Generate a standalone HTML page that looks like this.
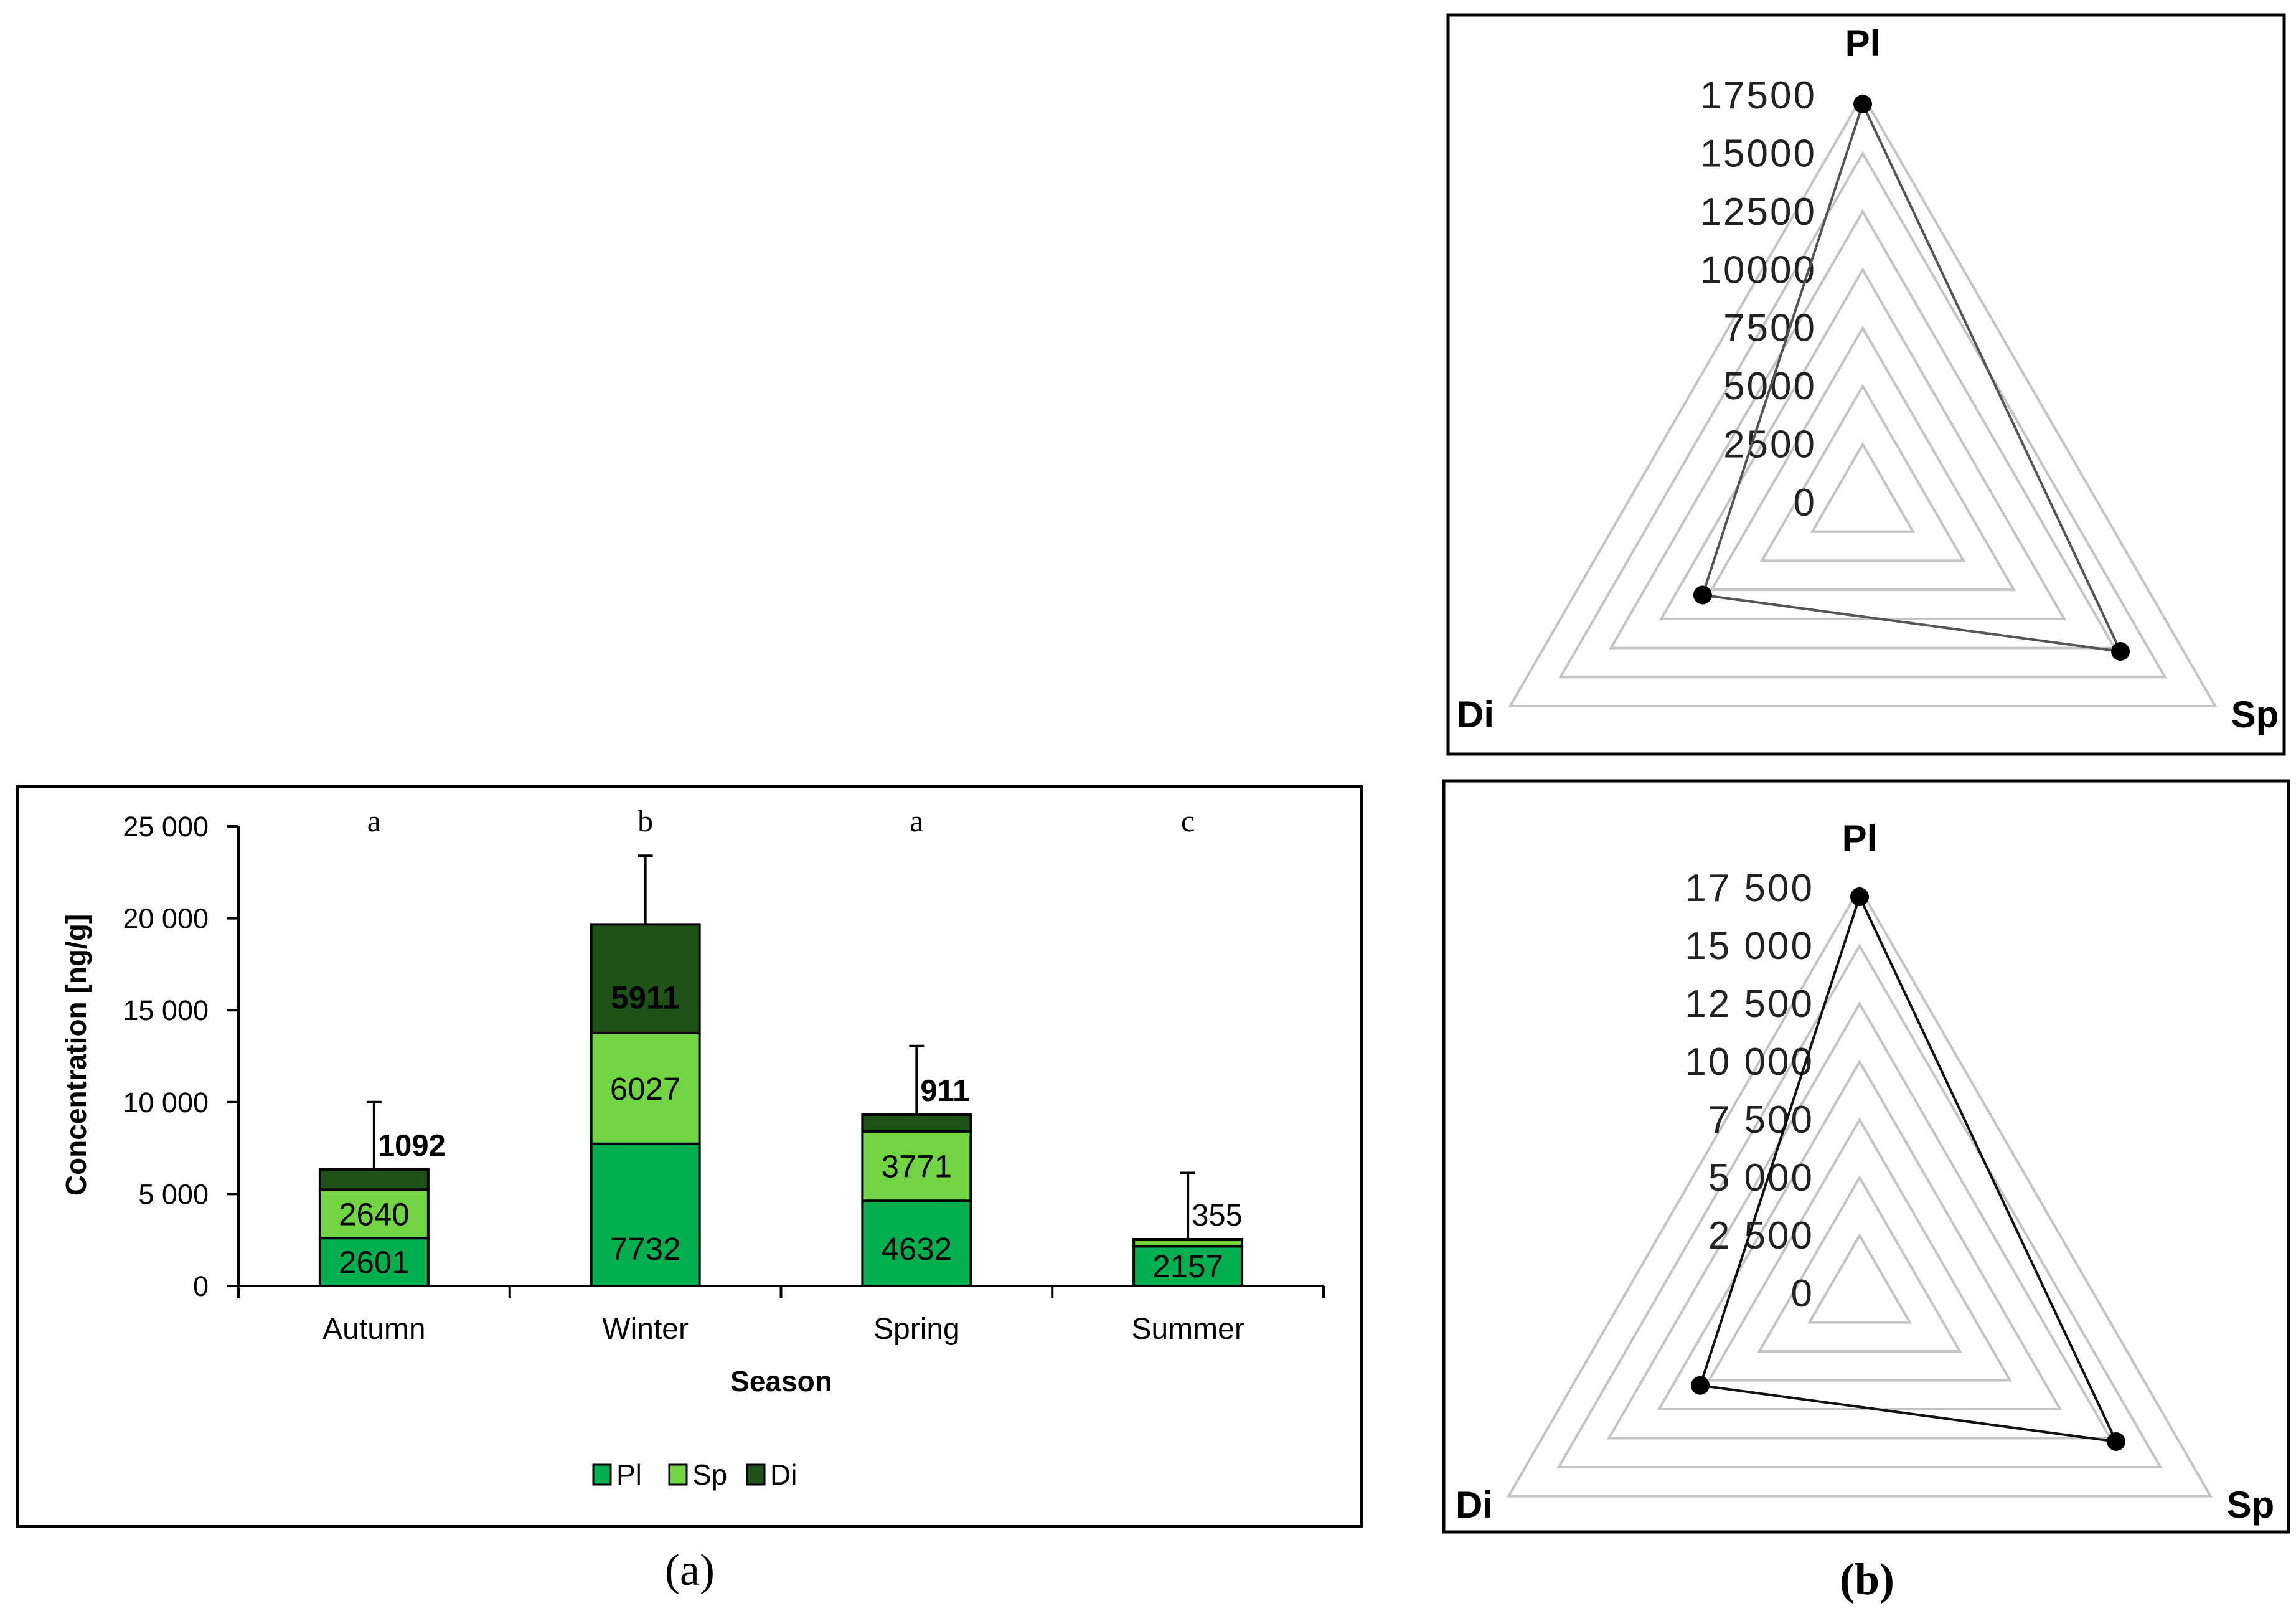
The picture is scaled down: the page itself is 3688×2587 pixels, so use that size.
<!DOCTYPE html>
<html><head><meta charset="utf-8"><style>
html,body{margin:0;padding:0;background:#fff;}
svg{display:block;font-family:"Liberation Sans",sans-serif;}
</style></head><body>
<svg id="root" width="3688" height="2587" viewBox="0 0 3688 2587" xmlns="http://www.w3.org/2000/svg">
<g id="barchart">
<rect x="28" y="1263" width="2159" height="1188" fill="#fff" stroke="#000" stroke-width="4"/>
<g id="bars"></g>
<g id="yaxis"></g>
<g id="xaxis"></g>
<text x="138" y="1694" transform="rotate(-90 138 1694)" text-anchor="middle" font-size="46" font-weight="bold">Concentration [ng/g]</text>
<text x="1255" y="2234" text-anchor="middle" font-size="46" font-weight="bold">Season</text>
<g>
<rect x="953" y="2352" width="28" height="32" fill="#00b050" stroke="#000" stroke-width="3"/>
<text x="990" y="2384" font-size="46">Pl</text>
<rect x="1075" y="2352" width="28" height="32" fill="#70d443" stroke="#000" stroke-width="3"/>
<text x="1112" y="2384" font-size="46">Sp</text>
<rect x="1200" y="2352" width="28" height="32" fill="#1f5218" stroke="#000" stroke-width="3"/>
<text x="1237" y="2384" font-size="46">Di</text>
</g>
<text x="1108" y="2545" text-anchor="middle" font-size="72" font-family="Liberation Serif, serif">(a)</text>
</g>
<rect x="2326" y="24" width="1343" height="1187" fill="#fff" stroke="#000" stroke-width="5"/>
<rect x="2319" y="1254" width="1357" height="1206" fill="#fff" stroke="#000" stroke-width="5"/>
<g id="radar1"></g>
<g id="radar2"></g>
<text x="2999" y="2560" text-anchor="middle" font-size="72" font-weight="bold" font-family="Liberation Serif, serif">(b)</text>
</svg>
<script>
const seasons = ["Autumn","Winter","Spring","Summer"];
const plValues = [2601,7732,4632,2157];
const spValues = [2640,6027,3771,355];
const diValues = [1092,5911,911,30];
const errorTops = [10000,23400,13050,6150];
const groupLetters = ["a","b","a","c"];
const yTicks = [0,5000,10000,15000,20000,25000];
const yTickLabels = ["0","5 000","10 000","15 000","20 000","25 000"];
const radarAxes = ["Pl","Sp","Di"];
const radarTotals = [17122,12793,7944];
const radarTicks = [0,2500,5000,7500,10000,12500,15000,17500];
const radarTickLabelsTop = ["0","2500","5000","7500","10000","12500","15000","17500"];
const radarTickLabelsBottom = ["0","2 500","5 000","7 500","10 000","12 500","15 000","17 500"];

const NS="http://www.w3.org/2000/svg";
function mk(tag,attrs,parent){const e=document.createElementNS(NS,tag);for(const k in attrs)e.setAttribute(k,attrs[k]);parent.appendChild(e);return e;}
const X0=383,X1=2126,Y0=2065,YTOP=1327,YMAX=25000;
const yS=v=>Y0-(v/YMAX)*(Y0-YTOP);
const band=(X1-X0)/seasons.length;
const xC=i=>X0+band*(i+0.5);
const bw=174;
const bars=document.getElementById('bars');
const yax=document.getElementById('yaxis');
const xax=document.getElementById('xaxis');
let l=mk('line',{x1:X0,y1:Y0,x2:X0,y2:YTOP,stroke:'#000','stroke-width':4},yax);


yTicks.forEach((t,i)=>{
 const y=yS(t);
 const tk=mk('line',{x1:X0-18,y1:y,x2:X0,y2:y,stroke:'#000','stroke-width':4},yax);
 
 
 const tx=mk('text',{x:X0-48,y:y+16,'text-anchor':'end','font-size':45},yax);
 tx.textContent=yTickLabels[i];
 
 
});
l=mk('line',{x1:X0,y1:Y0,x2:X1,y2:Y0,stroke:'#000','stroke-width':4},xax);


for(let i=0;i<=seasons.length;i++){
 const tk=mk('line',{x1:X0+band*i,y1:Y0,x2:X0+band*i,y2:Y0+20,stroke:'#000','stroke-width':4},xax);
 
 
}
const colors=['#00b050','#70d443','#1f5218'];
const segNames=['pl','sp','di'];
seasons.forEach((s,i)=>{
 const cx=xC(i);
 const tx=mk('text',{x:cx,y:2150,'text-anchor':'middle','font-size':48},xax);
 tx.textContent=s;
 
 
 const vals=[plValues[i],spValues[i],diValues[i]];
 let base=0;
 const total=vals[0]+vals[1]+vals[2];
 const eb=mk('line',{x1:cx,y1:yS(total),x2:cx,y2:yS(errorTops[i]),stroke:'#000','stroke-width':4},bars);
 
 
 const ec=mk('line',{x1:cx-12,y1:yS(errorTops[i]),x2:cx+12,y2:yS(errorTops[i]),stroke:'#000','stroke-width':4},bars);
 
 
 vals.forEach((v,j)=>{
  const yt=yS(base+v),yb=yS(base);
  const r=mk('rect',{x:cx-bw/2,y:yt,width:bw,height:Math.max(yb-yt,1),fill:colors[j],stroke:'#000','stroke-width':4},bars);
  
  
  const h=yb-yt;
  const bold=(j===2);
  if(!(i===3&&j===2)){
   let t;
   if(h>=60){
    let cy=(yt+yb)/2;
    if(j===0) cy=Math.max(cy,yb-60);
    if(j===2) cy+=30;
    if(j===1 && h>200) cy+=20;
    t=mk('text',{x:cx,y:cy+18,'text-anchor':'middle','font-size':51,'font-weight':bold?'bold':'normal',fill:'#000'},bars);
   }else{
    t=mk('text',{x:cx+6,y:yS(total)-22,'text-anchor':'start','font-size':49,'font-weight':bold?'bold':'normal',fill:'#000'},bars);
   }
   t.textContent=String(v);
   
   
  }
  base+=v;
 });
 const lt=mk('text',{x:cx,y:1335,'text-anchor':'middle','font-size':50,'font-family':'Liberation Serif, serif'},bars);
 lt.textContent=groupLetters[i];
 
 
});

function radar(gid,cx,cy,R,labels,lineColor,labelX,axPos){
 const g=document.getElementById(gid);
 const RMAX=17500;
 const ang=k=>(-90+120*k)*Math.PI/180;
 radarTicks.forEach(t=>{
  if(t===0)return;
  const r=t/RMAX*R;
  const pts=radarAxes.map((a,k)=>(cx+r*Math.cos(ang(k)))+','+(cy+r*Math.sin(ang(k)))).join(' ');
  const p=mk('polygon',{points:pts,fill:'none',stroke:'#c4c4c4','stroke-width':4},g);
  
  
 });
 radarTicks.forEach((t,i)=>{
  const y=cy-t/RMAX*R;
  const tx=mk('text',{x:labelX,y:y+21,'text-anchor':'end','font-size':62,'letter-spacing':'3',fill:'#222'},g);
  tx.textContent=labels[i];
  
  
 });
 const pts=radarTotals.map((v,k)=>{const r=v/RMAX*R;return [cx+r*Math.cos(ang(k)),cy+r*Math.sin(ang(k))];});
 const pl=mk('polygon',{points:pts.map(p=>p.join(',')).join(' '),fill:'none',stroke:lineColor,'stroke-width':4},g);
 
 
 pts.forEach((p,k)=>{
  const c=mk('circle',{cx:p[0],cy:p[1],r:15,fill:'#000'},g);
  
  
 });
 radarAxes.forEach((a,k)=>{
  const tx=mk('text',{x:axPos[k][0],y:axPos[k][1],'text-anchor':'middle','font-size':60,'font-weight':'bold'},g);
  tx.textContent=a;
  
  
 });
}
radar('radar1',2992,807,654,radarTickLabelsTop,'#555',2918,[[2992,90],[3622,1168],[2370,1168]]);
radar('radar2',2987,2077,651,radarTickLabelsBottom,'#111',2914,[[2987,1367],[3615,2437],[2368,2437]]);
</script>
</body></html>
